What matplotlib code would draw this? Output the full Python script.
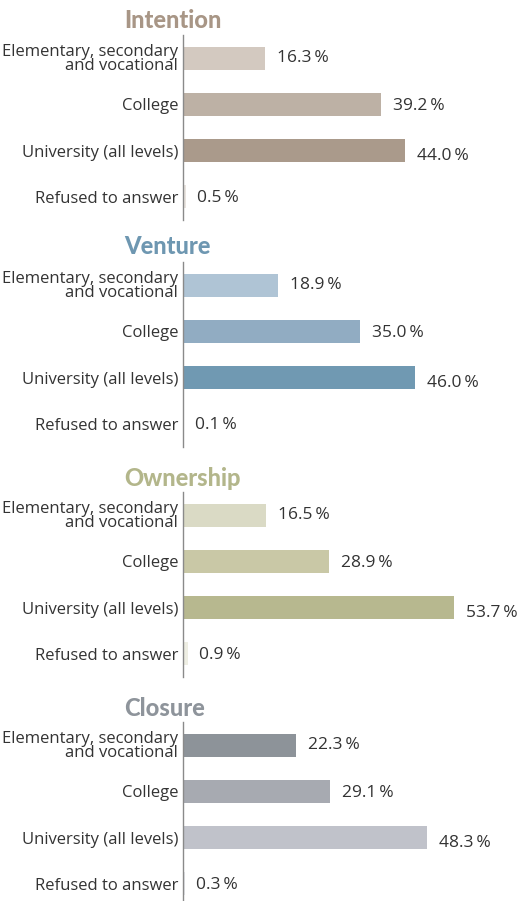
import matplotlib
matplotlib.use("Agg")
import matplotlib.pyplot as plt

# education level breakdown for each stage
categories = ["Elementary, secondary\nand vocational", "College",
              "University (all levels)", "Refused to answer"]
panels = ["Intention", "Venture", "Ownership", "Closure"]
intention = [16.3, 39.2, 44.0, 0.5]
venture = [18.9, 35.0, 46.0, 0.1]
ownership = [16.5, 28.9, 53.7, 0.9]
closure = [22.3, 29.1, 48.3, 0.3]

title_colors = ["#a89686", "#6e97b1", "#b3b68b", "#8e949b"]
bar_colors = [
    ["#d3c9c0", "#bdb1a5", "#aa9a8b", "#e9e4df"],
    ["#afc4d5", "#91acc2", "#7099b2", "#e5edf3"],
    ["#dadac5", "#c9c8a6", "#b7b88f", "#eeeee3"],
    ["#8d9399", "#a7aab1", "#c0c2ca", "#e6e7eb"],
]

W, H = 519, 901
fig = plt.figure(figsize=(W / 100, H / 100), dpi=100)
fig.patch.set_facecolor("white")

font = ["Open Sans", "DejaVu Sans"]
text_color = "#333333"

axes_top = [35, 262, 492, 722]
title_y = [21, 247, 478, 708]
panel_h = 185
left_px = 183
px_per_pct = 5.05
label_dy = [0, -1, -4, -1]  # university labels sit a bit lower

for i, vals in enumerate([intention, venture, ownership, closure]):
    ax = fig.add_axes([left_px / W, 1 - (axes_top[i] + panel_h) / H,
                       (W - left_px) / W, panel_h / H])
    y = range(len(categories))
    ax.barh(y, vals, height=0.5, color=bar_colors[i], edgecolor="none")
    ax.set_xlim(0, (W - left_px) / px_per_pct)
    ax.set_ylim(3.5, -0.5)
    ax.set_yticks(list(y))
    ax.set_yticklabels(categories, family=font, fontsize=12,
                       color=text_color, linespacing=0.85)
    ax.tick_params(axis="y", length=0, pad=3.5)
    ax.set_xticks([])
    for s in ["top", "right", "bottom"]:
        ax.spines[s].set_visible(False)
    ax.spines["left"].set_color("#8a8a8a")
    ax.spines["left"].set_linewidth(1.0)
    ax.set_facecolor("none")
    for j, v in enumerate(vals):
        ax.annotate(f"{v:.1f}\u2009%", xy=(v, j), xytext=(8.6, label_dy[j]),
                    textcoords="offset points", va="center", ha="left",
                    family=font, fontsize=12.5, color=text_color)
    fig.text(124 / W, 1 - title_y[i] / H, panels[i], family=["Lato", "DejaVu Sans"],
             fontweight="black", fontsize=17, color=title_colors[i],
             va="center", ha="left")

fig.savefig("out.png", dpi=100)
